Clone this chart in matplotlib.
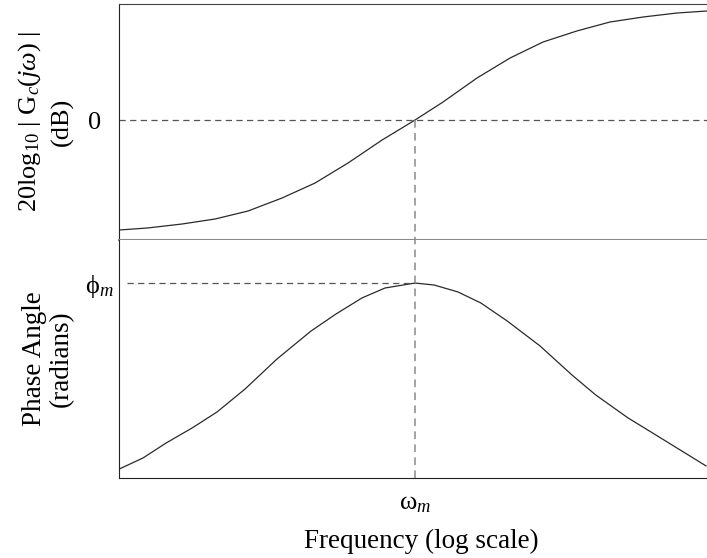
import numpy as np
import matplotlib
matplotlib.use("Agg")
import matplotlib.pyplot as plt

plt.rcParams['font.family'] = ['Liberation Serif', 'DejaVu Serif']
plt.rcParams['mathtext.fontset'] = 'custom'
plt.rcParams['mathtext.rm'] = 'Liberation Serif'
plt.rcParams['mathtext.it'] = 'Liberation Serif:italic'

# magnitude curve
freq_mag = [0.0097, 0.0151, 0.0260, 0.0436, 0.0731, 0.1245, 0.209, 0.350, 0.597, 1.0,
            1.55, 2.64, 4.43, 7.43, 12.6, 21.2, 35.6, 60.6, 96.9]
mag_db = [-11.0, -10.8, -10.4, -9.9, -9.1, -7.8, -6.3, -4.3, -2.0, 0.0,
          1.8, 4.2, 6.2, 7.8, 8.9, 9.8, 10.3, 10.7, 10.9]

# phase curve
freq_ph = [0.0097, 0.0141, 0.0202, 0.0304, 0.0450, 0.0698, 0.115, 0.196, 0.290, 0.436, 0.625,
           1.0, 1.35, 1.96, 2.81, 4.23, 7.08, 11.7, 17.0, 28.1, 40.3, 60.6, 95.4]
phase = [0.045, 0.101, 0.176, 0.252, 0.333, 0.449, 0.600, 0.741, 0.827, 0.908, 0.958,
         0.983, 0.973, 0.938, 0.882, 0.792, 0.666, 0.519, 0.418, 0.303, 0.232, 0.151, 0.061]

w_m = 1.0
phi_m = 0.983
xlim = (0.00968, 96.9)

fig = plt.figure(figsize=(7.07, 5.58), dpi=100)
left = 119 / 707
width = 1 - left
ax1 = fig.add_axes([left, 1 - 240 / 558, width, 236.5 / 558])
ax2 = fig.add_axes([left, 1 - 478 / 558, width, 238 / 558])

curve = dict(color='#2a2a2a', lw=0.9)
dash = dict(color='#555555', lw=0.9, dashes=(5, 3.5))
vdash = dict(color='#8a8a8a', lw=1.1, dashes=(5, 3.5))

# top: magnitude
ax1.plot(freq_mag, mag_db, **curve)
ax1.set_xscale('log')
ax1.set_xlim(*xlim)
ax1.set_ylim(-12, 11.65)
ax1.axhline(0, **dash)
ax1.plot([w_m, w_m], [0, -12], **vdash)
ax1.set_xticks([])
ax1.minorticks_off()
ax1.set_yticks([0])
ax1.set_yticklabels(['0'])
ax1.tick_params(axis='y', length=0, pad=13, labelsize=19)
ax1.set_ylabel('20log$_{10}$ | G$_c$($j\\omega$) |\n(dB)', fontsize=19, linespacing=1.45)
ax1.yaxis.set_label_coords(-0.076, 0.5)
ax1.spines['right'].set_visible(False)
ax1.spines['top'].set_color('#444444')
ax1.spines['bottom'].set_color('#8a8a8a')
ax1.spines['bottom'].set_linewidth(1.5)
ax1.spines['left'].set_color('#222222')

# bottom: phase
ax2.plot(freq_ph, phase, **curve)
ax2.set_xscale('log')
ax2.set_xlim(*xlim)
ax2.set_ylim(0, 1.2)
ax2.plot([xlim[0] * 1.13, w_m], [phi_m, phi_m], **dash)
ax2.plot([w_m, w_m], [0, 1.2], **vdash)
ax2.minorticks_off()
ax2.set_xticks([w_m])
ax2.set_xticklabels(['$\\mathrm{\\omega}_m$'])
ax2.set_yticks([phi_m])
ax2.set_yticklabels(['$\\mathrm{\\phi}_m$'])
ax2.tick_params(axis='x', length=0, pad=11, labelsize=19)
ax2.tick_params(axis='y', length=0, pad=4, labelsize=19)
ax2.set_ylabel('Phase Angle\n(radians)', fontsize=19.5, linespacing=1.1)
ax2.yaxis.set_label_coords(-0.076, 0.5)
ax2.set_xlabel('Frequency (log scale)', fontsize=19.5)
ax2.xaxis.set_label_coords(0.514, -0.212)
ax2.spines['right'].set_visible(False)
ax2.spines['top'].set_visible(False)
ax2.spines['left'].set_color('#222222')
ax2.spines['bottom'].set_color('#222222')

fig.savefig('out.png', dpi=100)
